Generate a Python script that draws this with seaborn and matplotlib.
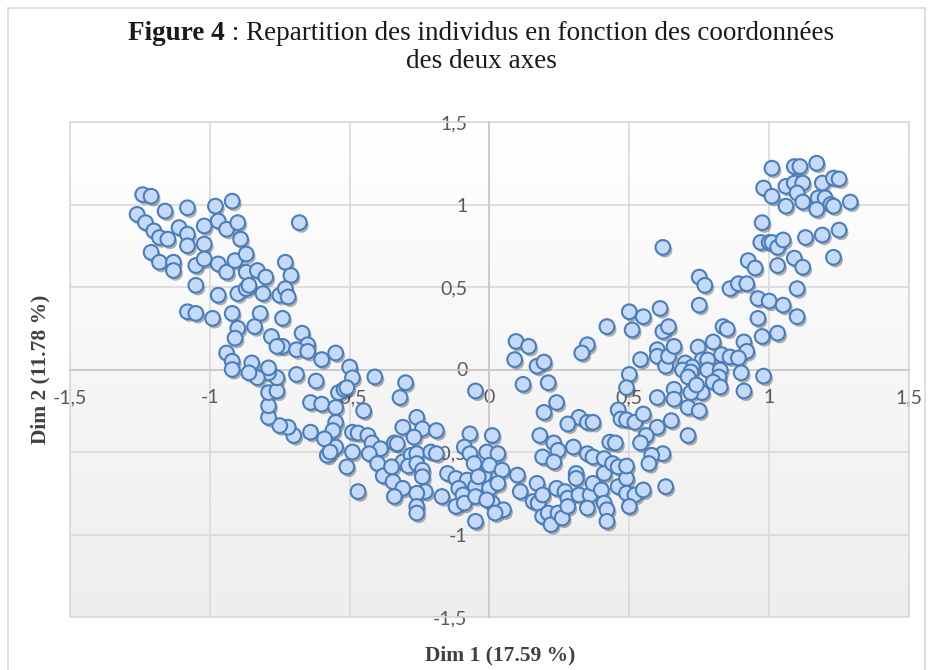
import numpy as np
import pandas as pd
import matplotlib
matplotlib.use("Agg")
import matplotlib.pyplot as plt
import seaborn as sns
from matplotlib import patheffects as pe
from matplotlib.patches import Rectangle
from matplotlib.colors import LinearSegmentedColormap

# ---------------- data (Dim 1, Dim 2) ----------------
arm_left_upper = [
    (-1.24, 1.06), (-1.21, 1.05), (-1.16, 0.96), (-1.08, 0.98), (-0.98, 0.99), (-0.92, 1.02),
    (-0.68, 0.89), (-1.26, 0.94), (-1.23, 0.89), (-1.20, 0.84), (-1.18, 0.80), (-1.15, 0.79),
    (-1.11, 0.86), (-1.08, 0.82), (-1.08, 0.75), (-1.02, 0.87), (-1.02, 0.76), (-0.97, 0.90),
    (-0.94, 0.85), (-0.90, 0.89), (-0.89, 0.79), (-1.21, 0.71), (-1.18, 0.65), (-1.13, 0.65),
    (-1.13, 0.60), (-1.05, 0.63), (-1.02, 0.67), (-0.97, 0.64), (-0.94, 0.59), (-0.91, 0.66),
    (-0.87, 0.70), (-0.87, 0.59), (-0.83, 0.60), (-0.80, 0.56), (-0.73, 0.65), (-0.71, 0.57),
    (-1.05, 0.51), (-0.97, 0.45), (-0.90, 0.46), (-0.87, 0.49), (-0.86, 0.51), (-0.81, 0.46),
    (-0.75, 0.45), (-0.73, 0.49), (-0.72, 0.44), (-1.08, 0.35), (-1.05, 0.34), (-0.99, 0.31),
    (-0.92, 0.34), (-0.82, 0.34), (-0.74, 0.31), (-0.90, 0.25), (-0.84, 0.26), (-0.91, 0.19),
    (-0.78, 0.20), (-0.74, 0.14), (-0.67, 0.22), (-0.65, 0.15), (-0.69, 0.12), (-0.94, 0.10),
    (-0.92, 0.05), (-0.85, 0.04),
]

arm_left_lower = [
    (-0.55, 0.10), (-0.60, 0.06), (-0.65, 0.11), (-0.69, -0.03), (-0.62, -0.07), (-0.54, -0.14),
    (-0.64, -0.20), (-0.60, -0.21), (-0.55, -0.23), (-0.55, -0.32), (-0.56, -0.37), (-0.55, -0.47),
    (-0.64, -0.38), (-0.59, -0.42), (-0.58, -0.52), (-0.57, -0.50), (-0.70, -0.40), (-0.72, -0.35),
    (-0.75, -0.34), (-0.79, -0.29), (-0.79, -0.22), (-0.79, -0.14), (-0.76, -0.13), (-0.76, -0.05),
    (-0.79, -0.02), (-0.79, 0.01), (-0.83, -0.05), (-0.86, -0.02), (-0.92, 0.00), (-0.76, 0.14),
]

bottom_middle = [
    (-0.50, 0.015), (-0.49, -0.05), (-0.41, -0.045), (-0.30, -0.08), (-0.32, -0.17), (-0.05, -0.13),
    (-0.52, -0.12), (-0.51, -0.11), (-0.45, -0.25), (-0.26, -0.29), (-0.31, -0.35), (-0.24, -0.36),
    (-0.19, -0.37), (-0.27, -0.41), (-0.49, -0.38), (-0.47, -0.385), (-0.435, -0.40), (-0.42, -0.445),
    (-0.39, -0.48), (-0.43, -0.51), (-0.40, -0.57), (-0.49, -0.50), (-0.51, -0.59), (-0.34, -0.445),
    (-0.33, -0.45), (-0.38, -0.645), (-0.31, -0.56), (-0.35, -0.59), (-0.345, -0.68), (-0.31, -0.72),
    (-0.34, -0.77), (-0.28, -0.52), (-0.26, -0.51), (-0.29, -0.585), (-0.26, -0.57), (-0.24, -0.61),
    (-0.24, -0.65), (-0.23, -0.74), (-0.26, -0.75), (-0.26, -0.83), (-0.26, -0.87), (-0.47, -0.74),
    (-0.21, -0.50), (-0.19, -0.51), (-0.17, -0.77), (-0.15, -0.63), (-0.12, -0.66), (-0.07, -0.39),
    (-0.09, -0.47), (-0.07, -0.51), (-0.055, -0.57), (-0.08, -0.67), (-0.11, -0.72), (-0.05, -0.71),
    (-0.095, -0.76), (-0.12, -0.83), (-0.09, -0.81), (-0.05, -0.77), (-0.02, -0.64), (0.01, -0.40),
    (-0.01, -0.50), (0.03, -0.51), (0.00, -0.58), (0.045, -0.61), (0.00, -0.72), (0.03, -0.69),
    (0.01, -0.81), (-0.01, -0.79), (0.05, -0.85), (-0.05, -0.92), (-0.04, -0.65), (0.02, -0.87),
    (0.10, -0.64), (0.11, -0.74),
]

bottom_right = [
    (0.17, -0.69), (0.156, -0.80), (0.174, -0.81), (0.19, -0.76), (0.19, -0.89), (0.21, -0.87),
    (0.22, -0.94), (0.245, -0.87), (0.26, -0.90), (0.24, -0.72), (0.27, -0.74), (0.28, -0.78),
    (0.28, -0.83), (0.31, -0.63), (0.31, -0.66), (0.32, -0.76), (0.36, -0.76), (0.37, -0.69),
    (0.40, -0.73), (0.35, -0.84), (0.41, -0.81), (0.42, -0.85), (0.42, -0.92), (0.41, -0.63),
    (0.46, -0.71), (0.49, -0.66), (0.49, -0.75), (0.52, -0.76), (0.55, -0.73), (0.50, -0.83),
    (0.63, -0.71),
]

arm_right_lower = [
    (0.62, 0.74), (0.50, 0.35), (0.55, 0.32), (0.61, 0.37), (0.42, 0.26), (0.51, 0.24),
    (0.62, 0.23), (0.64, 0.26), (0.095, 0.17), (0.14, 0.14), (0.35, 0.15), (0.33, 0.10),
    (0.09, 0.06), (0.17, 0.02), (0.195, 0.045), (0.54, 0.06), (0.60, 0.12), (0.60, 0.08),
    (0.63, 0.02), (0.64, 0.08), (0.66, 0.14), (0.50, -0.03), (0.49, -0.11), (0.12, -0.09),
    (0.21, -0.08), (0.66, -0.12), (0.60, -0.17), (0.66, -0.18), (0.24, -0.20), (0.195, -0.26),
    (0.32, -0.29), (0.28, -0.33), (0.35, -0.32), (0.37, -0.32), (0.46, -0.245), (0.47, -0.30),
    (0.49, -0.305), (0.52, -0.32), (0.55, -0.27), (0.60, -0.35), (0.65, -0.31), (0.18, -0.40),
    (0.23, -0.445), (0.245, -0.49), (0.43, -0.44), (0.45, -0.445), (0.56, -0.40), (0.54, -0.445),
    (0.30, -0.47), (0.35, -0.51), (0.37, -0.53), (0.41, -0.54), (0.44, -0.57), (0.46, -0.59),
    (0.49, -0.585), (0.19, -0.53), (0.23, -0.56), (0.62, -0.51), (0.58, -0.52), (0.57, -0.57),
    (0.76, -0.14), (0.72, -0.14), (0.71, -0.23), (0.75, -0.25), (0.91, -0.13), (0.71, -0.40),
]

arm_right_upper = [
    (1.01, 1.22), (1.09, 1.23), (1.11, 1.23), (1.17, 1.25), (0.98, 1.10), (1.01, 1.05),
    (1.06, 1.11), (1.09, 1.13), (1.12, 1.13), (1.10, 1.07), (1.12, 1.015), (1.06, 0.99),
    (1.19, 1.13), (1.23, 1.16), (1.25, 1.155), (1.175, 1.04), (1.20, 1.04), (1.22, 1.00),
    (1.23, 0.99), (1.17, 0.97), (1.29, 1.015), (0.975, 0.89), (0.97, 0.77), (1.00, 0.77),
    (1.01, 0.77), (1.03, 0.74), (1.05, 0.785), (1.13, 0.80), (1.19, 0.815), (1.25, 0.845),
    (1.23, 0.68), (0.925, 0.66), (0.95, 0.615), (1.03, 0.63), (1.09, 0.675), (1.12, 0.62),
    (0.75, 0.56), (0.77, 0.51), (0.86, 0.49), (0.89, 0.52), (0.92, 0.52), (1.10, 0.49),
    (0.75, 0.39), (0.96, 0.43), (1.00, 0.415), (1.05, 0.39), (1.10, 0.32), (0.96, 0.31),
    (0.835, 0.26), (0.85, 0.245), (0.975, 0.20), (1.03, 0.22), (0.746, 0.136), (0.80, 0.167),
    (0.91, 0.167), (0.92, 0.11), (0.76, 0.058), (0.78, 0.058), (0.70, 0.04), (0.725, 0.015),
    (0.83, 0.09), (0.86, 0.076), (0.89, 0.07), (0.69, -0.003), (0.72, -0.015), (0.78, -0.003),
    (0.825, -0.003), (0.90, -0.02), (0.98, -0.04), (0.71, -0.045), (0.74, -0.094), (0.82, -0.045),
    (0.80, -0.076), (0.825, -0.106),
]

tick_values = [-1.5, -1.0, -0.5, 0.0, 0.5, 1.0, 1.5]
tick_labels = ["-1,5", "-1", "-0,5", "0", "0,5", "1", "1,5"]

title_bold = "Figure 4"
title_rest = " : Repartition des individus en fonction des coordonnées"
title_line2 = "des deux axes"
xlabel_text = "Dim 1 (17.59 %)"
ylabel_text = "Dim 2 (11.78 %)"

points = (arm_left_upper + arm_left_lower + bottom_middle + bottom_right
          + arm_right_lower + arm_right_upper)
df = pd.DataFrame(points, columns=["dim1", "dim2"])

# ---------------- figure ----------------
sns.set_theme(style="white")
plt.rcParams["font.family"] = ["Lato", "DejaVu Sans"]

W, H = 937, 670
fig = plt.figure(figsize=(W / 100, H / 100), dpi=100)
fig.patch.set_facecolor("white")

# chart-area border
fig.patches.append(Rectangle((8 / W, -0.05), (925 - 8) / W, (H - 8) / H + 0.05,
                             transform=fig.transFigure, fill=False,
                             edgecolor="#d9d9d9", lw=1.2, zorder=0))

L, R, T, B = 70, 909, 122, 617
ax = fig.add_axes([L / W, 1 - B / H, (R - L) / W, (B - T) / H])
ax.set_xlim(-1.5, 1.5)
ax.set_ylim(-1.5, 1.5)

# plot area gradient background
grad = np.linspace(0, 1, 256).reshape(-1, 1)
cmap = LinearSegmentedColormap.from_list("bg", ["#eeeeee", "#ffffff"])
ax.imshow(grad, extent=[-1.5, 1.5, -1.5, 1.5], aspect="auto", cmap=cmap,
          origin="lower", zorder=0, interpolation="bilinear")

ax.set_xticks(tick_values)
ax.set_xticklabels(tick_labels)
ax.set_yticks(tick_values)
ax.set_yticklabels(tick_labels)
ax.grid(True, color="#d9d9d9", lw=1.2)
ax.set_axisbelow(True)

for s in ["top", "right"]:
    ax.spines[s].set_visible(False)
ax.spines["left"].set_position(("data", 0))
ax.spines["bottom"].set_position(("data", 0))
for s in ["left", "bottom"]:
    ax.spines[s].set_color("#c8c8c8")
    ax.spines[s].set_linewidth(1.2)
ax.add_patch(Rectangle((0, 0), 1, 1, transform=ax.transAxes, fill=False,
                       edgecolor="#d9d9d9", lw=1.2, zorder=1, clip_on=False))

ax.tick_params(axis="both", length=0, labelsize=14, labelcolor="#595959")
ax.tick_params(axis="x", pad=14)
ax.tick_params(axis="y", pad=16)

sns.scatterplot(data=df, x="dim1", y="dim2", ax=ax, s=112, color="#c4daf8",
                edgecolor="#4a7ebb", linewidth=1.5, zorder=3, legend=False)
coll = ax.collections[-1]
coll.set_path_effects([pe.SimplePatchShadow(offset=(1.5, -2.0), shadow_rgbFace="#222222", alpha=0.35),
                       pe.Normal()])
ax.set_xlabel("")
ax.set_ylabel("")

# axis titles
serif = ["Liberation Serif", "DejaVu Serif"]
fig.text(500 / W, 1 - 655 / H, xlabel_text, family=serif, weight="bold", fontsize=15.5,
         color="#404040", ha="center", va="center")
fig.text(40 / W, 1 - 369 / H, ylabel_text, family=serif, weight="bold", fontsize=15.5,
         color="#404040", ha="center", va="center", rotation=90)

# title (mixed bold / regular on line 1)
cx = 481 / W
y1 = 1 - 34 / H
y2 = 1 - 62 / H
fs_title = 19.5
t1 = fig.text(cx, y1, title_bold, family=serif, weight="bold", fontsize=fs_title,
              color="#1a1a1a", ha="left", va="center")
t2 = fig.text(cx, y1, title_rest, family=serif, fontsize=fs_title,
              color="#1a1a1a", ha="left", va="center")
fig.text(cx, y2, title_line2, family=serif, fontsize=fs_title, color="#1a1a1a",
         ha="center", va="center")
fig.canvas.draw()
r = fig.canvas.get_renderer()
w1 = t1.get_window_extent(r).width / W
w2 = t2.get_window_extent(r).width / W
x0 = cx - (w1 + w2) / 2
t1.set_x(x0)
t2.set_x(x0 + w1)

fig.savefig("out.png", dpi=100)
